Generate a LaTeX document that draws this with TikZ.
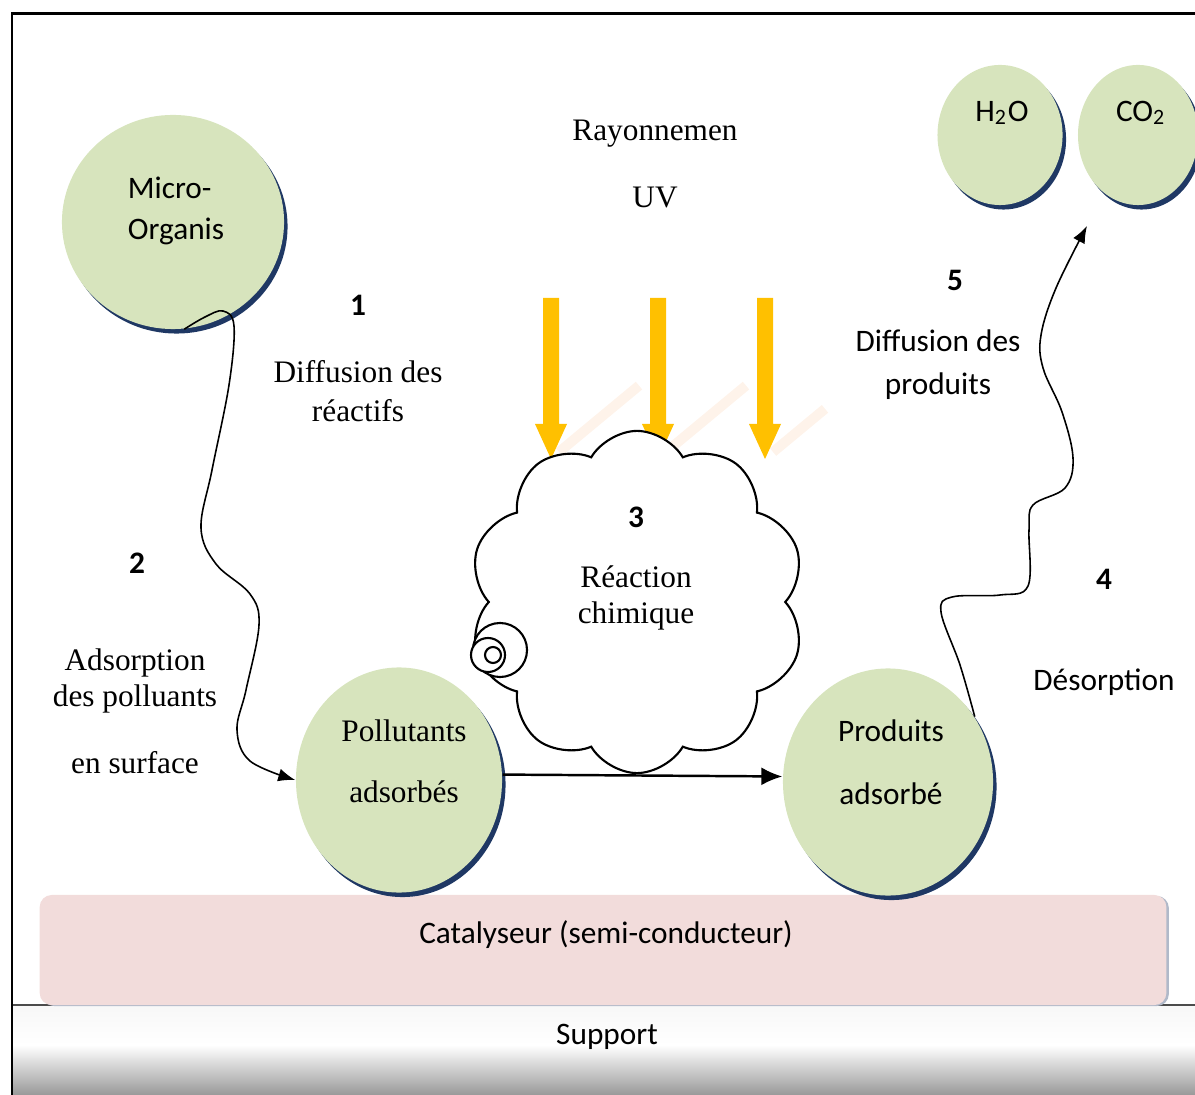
\documentclass[tikz,border=0pt]{standalone}
\usepackage{fontspec}
\setmainfont{Liberation Serif}
\setsansfont{Carlito}
\usetikzlibrary{shapes.geometric,shapes.symbols,arrows.meta,shadows}
\definecolor{blobgreen}{HTML}{D7E4BD}
\definecolor{blobnavy}{HTML}{1F3864}
\definecolor{catpink}{HTML}{F2DCDB}
\definecolor{uvyellow}{HTML}{FFC000}
\definecolor{uvglow}{HTML}{FEF3EA}

\begin{document}
\begin{tikzpicture}[x=0.01cm, y=-0.01cm, font=\fontsize{8.9}{11}\selectfont,
    blob/.style={ellipse, fill=blobgreen, inner sep=0pt,
        drop shadow={shadow xshift=0.035cm, shadow yshift=-0.045cm, fill=blobnavy, opacity=1}},
    sans/.style={font=\sffamily\fontsize{8.9}{11}\selectfont},
    num/.style={font=\sffamily\bfseries\fontsize{8.9}{11}\selectfont},
    wavy/.style={line width=0.45pt, -{Latex[length=0.17cm, width=0.13cm]}},
    flow/.style={line width=0.7pt, -{Latex[length=0.21cm, width=0.18cm]}}]
    \useasboundingbox (0,0) rectangle (1195,1095);

    % frame and support
    \shade[top color=black!3, bottom color=white] (12,1005) rectangle (1195,1045);
    \shade[top color=white, bottom color=black!40] (12,1045) rectangle (1195,1095);
    \draw[black!70, line width=0.4pt] (12,1005) -- (1195,1005);
    \draw[line width=0.85pt] (12,1095) -- (12,14) -- (1195,14);
    \node[sans] (support) at (607,1037) {Support};

    % catalyst
    \node[rectangle, rounded corners=0.12cm, fill=catpink, minimum width=11.26cm, minimum height=1.1cm,
        drop shadow={shadow xshift=0.025cm, shadow yshift=-0.01cm, fill=blobnavy!35, opacity=1}] (cat) at (603,950) {};
    \node[sans] (catlabel) at (606,935) {Catalyseur (semi-conducteur)};

    % UV rays
    \foreach \ux/\ul in {551/80,658/80,765/52} {
        \draw[uvglow, line width=0.1cm] (\ux+8,452) -- ++(\ul,-0.83*\ul);
        \fill[uvyellow] (\ux-8,298) -- (\ux+8,298) -- (\ux+8,424) -- (\ux+16,424)
            -- (\ux,459) -- (\ux-16,424) -- (\ux-8,424) -- cycle;
    }
    \node (uvtop) at (655,134) {Rayonnemen};
    \node (uvbot) at (655,197) {UV};

    % reaction cloud
    \node[cloud, draw, fill=white, line width=0.6pt, cloud puffs=10, cloud puff arc=120, aspect=0.95,
        minimum width=3.36cm, minimum height=3.42cm, inner sep=0pt] (reaction) at (637,602) {};
    \node[circle, draw, fill=white, line width=0.6pt, minimum size=0.54cm, inner sep=0pt] (bubA) at (500,650) {};
    \node[circle, draw, fill=white, line width=0.6pt, minimum size=0.34cm, inner sep=0pt] (bubB) at (488,655) {};
    \node[circle, draw, fill=white, line width=0.6pt, minimum size=0.16cm, inner sep=0pt] (bubC) at (493,655) {};
    \node[num] (n3) at (636,517) {3};
    \node[align=center, font=\fontsize{8.9}{10.2}\selectfont] (reactlab) at (636,598) {Réaction\\chimique};

    % molecules
    \node[blob, minimum width=2.22cm, minimum height=2.14cm] (micro) at (173,222) {};
    \node[sans, align=left, font=\sffamily\fontsize{8.9}{11.6}\selectfont] (microlab) at (176,211) {Micro-\\Organis};
    \node[blob, minimum width=2.06cm, minimum height=2.25cm] (poll) at (399,780) {};
    \node[align=center, font=\fontsize{8.9}{17.3}\selectfont] (polllab) at (404,761) {Pollutants\\adsorbés};
    \node[blob, minimum width=2.1cm, minimum height=2.27cm] (prod) at (888,782) {};
    \node[align=center, font=\sffamily\fontsize{8.9}{17.8}\selectfont] (prodlab) at (891,762) {Produits\\adsorbé};
    \node[blob, minimum width=1.25cm, minimum height=1.4cm] (water) at (1000,135) {};
    \node[sans] (waterlab) at (1002,113) {H\textsubscript{2}O};
    \node[blob, minimum width=1.2cm, minimum height=1.4cm] (carbon) at (1138,135) {};
    \node[sans] (carbonlab) at (1141,113) {CO\textsubscript{2}};

    % steps
    \node[num] (n1) at (358,305) {1};
    \node[align=center] (difflab) at (358,391) {Diffusion des\\réactifs};
    \node[num] (n2) at (137,563) {2};
    \node[align=center, font=\fontsize{8.9}{10}\selectfont] (adslab) at (135,681) {Adsorption\\des polluants};
    \node (surflab) at (135,763) {en surface};
    \node[num] (n4) at (1104,579) {4};
    \node[sans] (desorlab) at (1104,682) {Désorption};
    \node[num] (n5) at (955,280) {5};
    \node[align=center, font=\sffamily\fontsize{8.9}{12.2}\selectfont] (prodifflab) at (938,365) {Diffusion des\\produits};

    % connectors
    \coordinate (release) at (1087,226);
    \draw[flow] (poll.3) -- (prod.177);
    \draw[wavy] plot[smooth, tension=0.6] coordinates {(micro.-84) (205,317) (223,311) (234,326) (229,385)
        (212,470) (201,528) (216,564) (250,594) (259,625) (246,690) (237,730) (250,761) (poll.west)};
    \draw[wavy] plot[smooth, tension=0.6] coordinates {(prod.37) (960,665) (941,612) (952,597) (1000,595)
        (1028,586) (1029,530) (1033,505) (1065,488) (1073,458) (1062,412) (1043,368) (1041,335) (1056,288) (release)};
\end{tikzpicture}
\end{document}
